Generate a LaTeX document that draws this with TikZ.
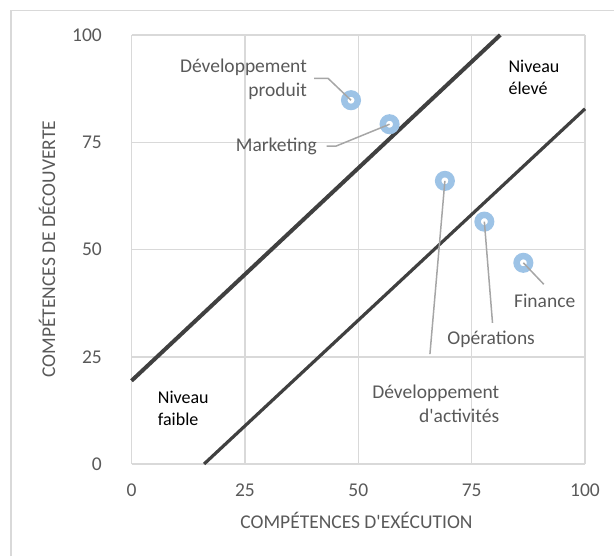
\documentclass[tikz,border=0pt]{standalone}
\usepackage{fontspec}
\setmainfont{Carlito}[Ligatures=TeXOff]
\usepackage{xcolor}
\definecolor{gridgray}{RGB}{217,217,217}
\definecolor{textgray}{RGB}{89,89,89}
\definecolor{leadgray}{RGB}{166,166,166}
\definecolor{markblue}{RGB}{157,195,230}
\definecolor{trenddark}{RGB}{64,64,64}
\usepackage{tikz}
\usetikzlibrary{calc,positioning}

\tikzset{
  lbl/.style={text=textgray, font=\fontsize{19.5}{24}\selectfont, inner sep=0pt},
  zone/.style={text=black, font=\fontsize{18}{21.6}\selectfont, inner sep=0pt, align=left},
  leader/.style={leadgray, line width=1.5pt},
  dot/.style={circle, fill=white, draw=markblue, line width=6.5pt, minimum size=13.5pt, inner sep=0pt},
  gridline/.style={gridgray, line width=1.5pt},
}

\begin{document}
\begin{tikzpicture}[x=4.535pt, y=4.29pt]
        % Parameters
        \def\lx{0}
        \def\ux{100}
        \def\ly{0}
        \def\uy{100}
        \useasboundingbox (-29.0,-21.45) rectangle (106.39,108.16);
        % Chart frame
        \draw[gridline] (-26.6,-21.45) -- (-26.6,105.66) -- (106.39,105.66);
        % Grid
        \foreach \v in {0,25,50,75,100} {
            \draw[gridline] (\lx,\v) -- (\ux,\v);
            \draw[gridline] (\v,\ly) -- (\v,\uy);
            \node[lbl, anchor=east] (ytick\v) at (-6.5,\v) {\v};
            \node[lbl] (xtick\v) at (\v,-6.2) {\v};
        }
        % Axis titles
        \node[lbl] (xtitle) at (49.6,-13.1) {COMPÉTENCES D'EXÉCUTION};
        \node[lbl, rotate=90] (ytitle) at (-18.6,50.1) {COMPÉTENCES DE DÉCOUVERTE};
        % Level lines
        \draw[trenddark, line width=4pt] (0,19.4) -- (81.3,100);
        \draw[trenddark, line width=3.2pt] (16,0) -- (100,82.8);
        % Points
        \node[dot] (dp) at (48.4,84.8) {};
        \node[dot] (mk) at (56.9,79.2) {};
        \node[dot] (da) at (69.1,66.0) {};
        \node[dot] (op) at (77.8,56.5) {};
        \node[dot] (fi) at (86.4,46.9) {};
        % Labels
        \node[lbl, anchor=east, align=right] (dplbl) at (38.7,89.6) {Développement\\produit};
        \node[lbl, anchor=east] (mklbl) at (40.9,74.1) {Marketing};
        \node[lbl, anchor=east, align=right] (dalbl) at (81.1,14.0) {Développement\\d'activités};
        \node[lbl] (oplbl) at (79.3,29.1) {Opérations};
        \node[lbl] (filbl) at (91.1,38.0) {Finance};
        \node[zone, anchor=west] (high) at (83.1,90.1) {Niveau\\élevé};
        \node[zone, anchor=west] (low) at (5.78,13.0) {Niveau\\faible};
        % Leaders
        \coordinate (dpa) at (40.24,89.9);
        \coordinate (dpb) at (43.33,89.9);
        \coordinate (mka) at (43.04,74.1);
        \coordinate (mkb) at (45.09,74.1);
        \coordinate (dac) at (65.8,25.6);
        \coordinate (opc) at (79.6,32.9);
        \coordinate (fic) at (90.9,41.9);
        \draw[leader] (dpa) -- (dpb) -- (dp.center);
        \draw[leader] (mka) -- (mkb) -- (mk.center);
        \draw[leader] (dac) -- (da.center);
        \draw[leader] (opc) -- (op.center);
        \draw[leader] (fic) -- (fi.center);
    \end{tikzpicture}
\end{document}
